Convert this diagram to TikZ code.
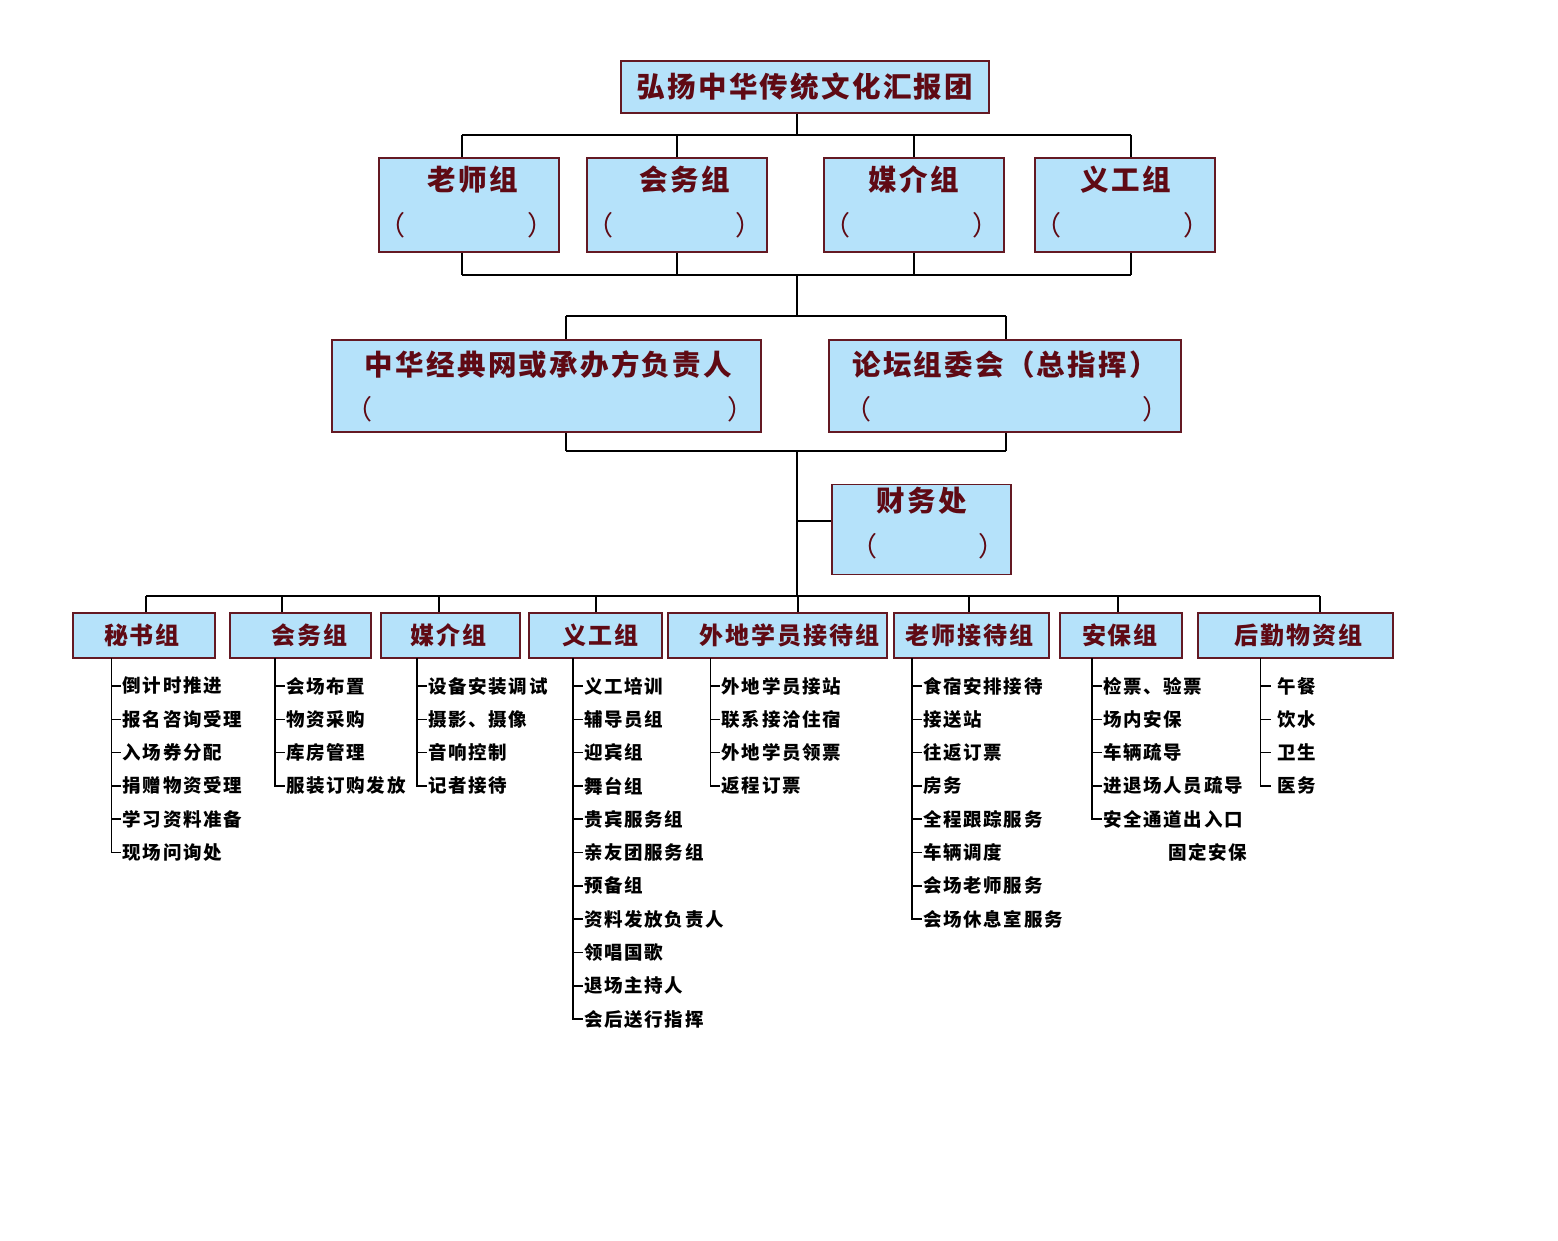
\documentclass[tikz,border=0pt]{standalone}
\usepackage{fontspec}
\newfontfamily\hei{Noto Sans CJK SC}[LetterSpace=8]
\newfontfamily\heiitem{Noto Sans CJK SC}[LetterSpace=9]
\definecolor{boxfill}{RGB}{181,226,250}
\definecolor{boxline}{RGB}{100,25,35}
\definecolor{ink}{RGB}{95,10,20}

% sub-item list under a group box: [node opts]{prefix}{spine x}{box}{items}
\newcommand\sublist[5][]{%
  \coordinate (#2-s) at (#3,0);
  \foreach \t [count=\i] in {#5} {
    \node[item, #1] (#2-\i) at ({#3+9},{686+33.3*(\i-1)}) {\t};
    \draw[sub] (#2-\i.west -| #2-s) -- (#2-\i.west);
    \xdef\sublast{\i}
  }
  \draw[sub] (#4.south -| #2-s) -- (#2-\sublast.west -| #2-s);
}

\begin{document}
\begin{tikzpicture}[x=1pt, y=-1pt,
  grp/.style={draw=boxline, fill=boxfill, line width=1.3pt, inner sep=0pt},
  head/.style={inner sep=0pt, text=ink, font=\hei\bfseries\fontsize{28.5}{30}\selectfont},
  par/.style={inner sep=0pt, text=ink, font=\hei\fontsize{27}{30}\selectfont},
  lbl/.style={inner sep=0pt, text=ink, font=\hei\bfseries\fontsize{24}{26}\selectfont},
  item/.style={anchor=west, inner xsep=2pt, inner ysep=0pt, font=\heiitem\bfseries\fontsize{18.5}{20}\selectfont},
  bus/.style={line width=2pt},
  tie/.style={line width=1.4pt},
  sub/.style={line width=1.6pt, line cap=rect}]

\useasboundingbox (0,0) rectangle (1558,1241);

% top
\node[grp, head, minimum width=368pt, minimum height=52pt] (top) at (805,87) {弘扬中华传统文化汇报团};

% second row
\foreach \n/\x/\d/\t in {ls/469/4/老师组, hw/677/8/会务组, mj/914/0/媒介组, yg/1125/1/义工组} {
  \node[grp, minimum width=180pt, minimum height=94pt] (\n) at (\x,205) {};
  \node[head, anchor=base] (\n-t) at ([xshift=\d pt, yshift=-33pt]\n.north) {\t};
  \node[par, anchor=base] (\n-p) at ([xshift=-3pt, yshift=17pt]\n.south) {\makebox[176pt]{（\hfill）}};
}

% third row
\node[grp, minimum width=429pt, minimum height=92pt] (zh) at (546.5,386) {};
\node[head, anchor=base] (zh-t) at ([xshift=2pt, yshift=-36pt]zh.north) {中华经典网或承办方负责人};
\node[par, anchor=base] (zh-p) at ([xshift=3pt, yshift=13pt]zh.south) {\makebox[409pt]{（\hfill）}};
\node[grp, minimum width=352pt, minimum height=92pt] (lt) at (1005,386) {};
\node[head, anchor=base] (lt-t) at ([yshift=-36pt]lt.north) {论坛组委会（总指挥）};
\node[par, anchor=base] (lt-p) at ([xshift=2pt, yshift=13pt]lt.south) {\makebox[325pt]{（\hfill）}};

\node[grp, minimum width=179pt, minimum height=90pt] (cw) at (921.5,529.5) {};
\node[head, anchor=base] (cw-t) at ([yshift=-28pt]cw.north) {财务处};
\node[par, anchor=base] (cw-p) at ([xshift=6pt, yshift=19pt]cw.south) {\makebox[155pt]{（\hfill）}};

% fourth row
\foreach \n/\x/\w/\d/\t in {ms/144/142/-2/秘书组, hw2/300.5/141/9/会务组, mj2/450.5/139/-2/媒介组,
    yg2/595.5/133/5/义工组, wd/777.5/219/12/外地学员接待组, lj/971.5/155/-2/老师接待组,
    ab/1121/122/-1/安保组, hq/1295.5/195/3/后勤物资组} {
  \node[grp, minimum width=\w pt, minimum height=45pt] (\n) at (\x,635.5) {};
  \node[lbl] (\n-t) at ([xshift=\d pt]\n.center) {\t};
}

% connectors
\coordinate (j1) at (797,135);
\draw[tie] (j1 |- top.south) -- (j1);
\foreach \n/\x in {ls/462, hw/677, mj/914, yg/1131} {
  \coordinate (\n-u) at (\x,135);
  \coordinate (\n-d) at (\x,275);
  \draw[tie] (\n-u) -- (\n-u |- \n.north);
  \draw[tie] (\n-d |- \n.south) -- (\n-d);
}
\draw[bus] (ls-u) -- (yg-u);
\draw[bus] (ls-d) -- (yg-d);

\coordinate (j2) at (797,275);
\coordinate (j3) at (797,316);
\draw[tie] (j2) -- (j3);
\foreach \n/\x in {zh/566, lt/1006} {
  \coordinate (\n-u) at (\x,316);
  \coordinate (\n-d) at (\x,451);
  \draw[tie] (\n-u) -- (\n-u |- \n.north);
  \draw[tie] (\n-d |- \n.south) -- (\n-d);
}
\draw[bus] (zh-u) -- (lt-u);
\draw[bus] (zh-d) -- (lt-d);

\coordinate (j4) at (797,451);
\coordinate (j5) at (797,596);
\coordinate (j6) at (797,521);
\draw[tie] (j4) -- (j5);
\draw[bus] (j6) -- (j6 -| cw.west);

\foreach \n/\x in {ms/146, hw2/282, mj2/439, yg2/596, wd/798, lj/969, ab/1118, hq/1320} {
  \coordinate (\n-u) at (\x,596);
  \draw[tie] (\n-u) -- (\n-u |- \n.north);
}
\draw[bus] (ms-u) -- (hq-u);

% sub items
\sublist{msi}{111.5}{ms}{倒计时推进,报名咨询受理,入场券分配,捐赠物资受理,学习资料准备,现场问询处}
\sublist{hwi}{275}{hw2}{会场布置,物资采购,库房管理,服装订购发放}
\sublist{mji}{417}{mj2}{设备安装调试,摄影、摄像,音响控制,记者接待}
\sublist{ygi}{573}{yg2}{义工培训,辅导员组,迎宾组,舞台组,贵宾服务组,亲友团服务组,预备组,资料发放负责人,领唱国歌,退场主持人,会后送行指挥}
\sublist{wdi}{710.5}{wd}{外地学员接站,联系接洽住宿,外地学员领票,返程订票}
\sublist{lji}{912}{lj}{食宿安排接待,接送站,往返订票,房务,全程跟踪服务,车辆调度,会场老师服务,会场休息室服务}
\sublist{abi}{1092}{ab}{检票、验票,场内安保,车辆疏导,进退场人员疏导,安全通道出入口}
\sublist[xshift=1pt, inner xsep=7pt]{hqi}{1260.5}{hq}{午餐,饮水,卫生,医务}
\node[item] (abi-x) at (1166,852.5) {固定安保};

\end{tikzpicture}
\end{document}
